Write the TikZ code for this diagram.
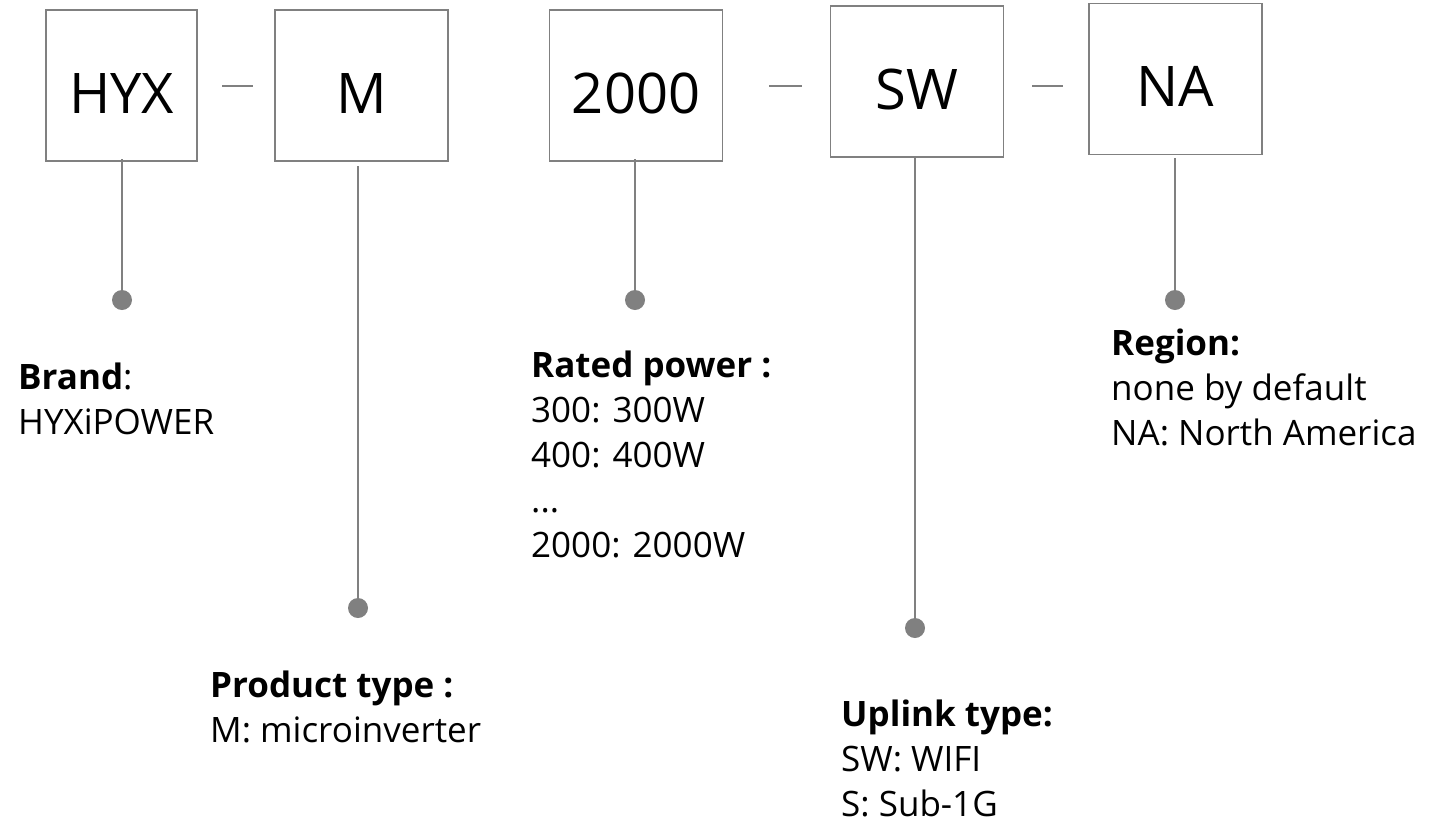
\documentclass[tikz,border=0pt]{standalone}
\usepackage{fontspec}
\setmainfont{Open Sans}
\usetikzlibrary{positioning}
\definecolor{stemgray}{RGB}{128,128,128}

\begin{document}
\begin{tikzpicture}[x=1pt,y=-1pt,
  codebox/.style={draw=stemgray, line width=1.5pt, minimum width=173pt, minimum height=151pt,
    inner sep=0pt, text height=55pt, text depth=0pt, font=\fontsize{56}{60}\selectfont},
  stem/.style={draw=stemgray, line width=1.5pt},
  knob/.style={circle, fill=stemgray, inner sep=0pt, minimum size=20pt},
  note/.style={anchor=base west, align=left, inner sep=0pt, font=\fontsize{35}{45}\selectfont}]
\useasboundingbox (0,0) rectangle (1429,820);
\node[codebox, minimum width=151pt] (hyx) at (121.5,85.5) {HYX};
\node[codebox] (m) at (361.5,85.5) {M};
\node[codebox] (power) at (636,85.5) {2000};
\node[codebox] (sw) at (917,81.5) {SW};
\node[codebox] (na) at (1175.5,79) {NA};
\draw[stem] (222,86) -- (253,86);
\draw[stem] (769,86) -- (802,86);
\draw[stem] (1032,86) -- (1063,86);
\node[knob] (dhyx) at (122,300) {};
\node[knob] (dm) at (358,608) {};
\node[knob] (dpower) at (635,300) {};
\node[knob] (dsw) at (915,628) {};
\node[knob] (dna) at (1175,300) {};
\draw[stem] (dhyx) -- ([yshift=3pt]dhyx |- hyx.south);
\draw[stem] (dm) -- ([yshift=-4pt]dm |- m.south);
\draw[stem] (dpower) -- ([yshift=3pt]dpower |- power.south);
\draw[stem] (dsw) -- ([yshift=2pt]dsw |- sw.south);
\draw[stem] (dna) -- ([yshift=-3pt]dna |- na.south);
% multi-line notes sit on the baseline of their last line
\node[note] (brand) at (18,434) {\textbf{Brand}:\\HYXiPOWER};
\node[note] (ptype) at (210,742) {\textbf{Product type :}\\M: microinverter};
\node[note] (rated) at (531,557) {\textbf{Rated power :}\\300: 300W\\400: 400W\\...\\2000: 2000W};
\node[note] (uplink) at (841,816) {\textbf{Uplink type:}\\SW: WIFI\\S: Sub-1G};
\node[note] (region) at (1111,445) {\textbf{Region:}\\none by default\\NA: North America};
\end{tikzpicture}
\end{document}
